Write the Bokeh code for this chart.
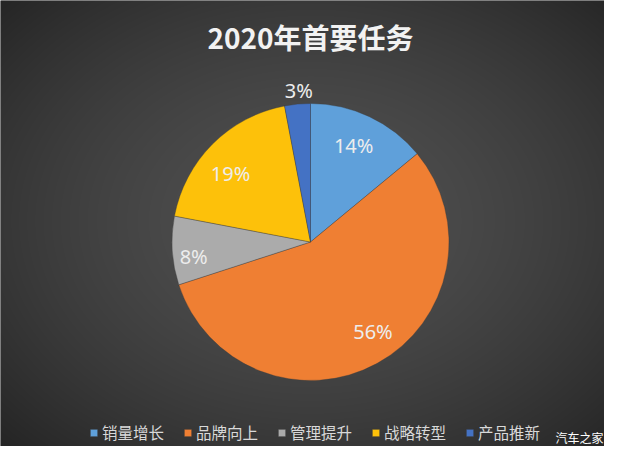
import numpy as np
from bokeh.plotting import figure
from bokeh.models import Label, Legend, LegendItem, ColumnDataSource
from bokeh.core.properties import value
from bokeh.embed import file_html
from bokeh.resources import INLINE

# ---- data ----
categories = ["销量增长", "品牌向上", "管理提升", "战略转型", "产品推新"]
shares = [14, 56, 8, 19, 3]
colors = ["#5FA0DA", "#EF7F33", "#ABABAB", "#FDC10A", "#4472C4"]
label_r = [0.76, 0.79, 0.85, 0.76, 1.10]     # label distance (fraction of radius)
label_dang = [1.0, 6.0, 3.5, 4.4, -1.0]      # label angle nudge (degrees)
title_text = "2020年首要任务"
watermark = "汽车之家"

# ---- layout ----
W, H = 604, 446
CX, CY, R = 310, 204.5, 138.5

p = figure(width=W, height=H, x_range=(0, W), y_range=(0, H),
           output_backend="svg", toolbar_location=None, min_border=0)
p.axis.visible = False
p.grid.visible = False
p.outline_line_color = None
p.background_fill_color = "#3a3a3a"
p.border_fill_color = "#3a3a3a"

# radial gradient background
yy, xx = np.mgrid[0:H, 0:W]
dx = (xx - 310) / 310
dy = (yy - (H / 2 + 2)) / 231
d = np.sqrt(dx ** 2 + dy ** 2) / np.sqrt(2)
f = np.clip(d, 0, 1) ** 1.6
c = (80 - 44 * f).astype(np.uint8)
img = np.empty((H, W), dtype=np.uint32)
view = img.view(dtype=np.uint8).reshape((H, W, 4))
view[..., 0] = c
view[..., 1] = c
view[..., 2] = c
view[..., 3] = 255
p.image_rgba(image=[img], x=0, y=0, dw=W, dh=H)

# pie wedges (clockwise from 12 o'clock)
total = float(sum(shares))
fr = np.array(shares) / total
cum_end = np.cumsum(fr)
cum_start = cum_end - fr
start_angle = np.pi / 2 - 2 * np.pi * cum_end
end_angle = np.pi / 2 - 2 * np.pi * cum_start
mid = (start_angle + end_angle) / 2 + np.radians(label_dang)

src = ColumnDataSource(dict(cat=categories, color=colors,
                            start=start_angle, end=end_angle))
wr = p.wedge(x=CX, y=CY, radius=R, start_angle="start", end_angle="end",
             fill_color="color", line_color="#3c3c3c", line_width=0.6,
             line_alpha=0.6, source=src)

# percentage labels
lr = np.array(label_r) * R
lsrc = ColumnDataSource(dict(x=CX + lr * np.cos(mid), y=CY + lr * np.sin(mid),
                             t=[f"{v}%" for v in shares]))
p.text(x="x", y="y", text="t", source=lsrc, text_align="center",
       text_baseline="middle", text_font=value("Noto Sans"),
       text_font_size="20px", text_color="#EDEDED")

# title
p.add_layout(Label(x=CX, y=410, text=title_text, text_align="center",
                   text_baseline="middle", text_font="Noto Sans CJK SC",
                   text_font_style="bold", text_font_size="28px",
                   text_color="#F2F2F2"))

# legend
items = [LegendItem(label=cat, renderers=[wr], index=i)
         for i, cat in enumerate(categories)]
legend = Legend(items=items, orientation="horizontal", location=(89, 3),
                glyph_width=9, glyph_height=9, label_standoff=4, spacing=19,
                padding=0, margin=0, border_line_color=None,
                background_fill_alpha=0, label_text_font="Noto Sans CJK SC",
                label_text_font_size="15.5px", label_text_color="#D9D9D9",
                label_height=16)
p.add_layout(legend, "center")

# watermark
p.add_layout(Label(x=603, y=9, text=watermark, text_align="right",
                   text_baseline="middle", text_font="Noto Sans CJK SC",
                   text_font_size="12px", text_color="#FFFFFF"))

open("out.html", "w").write(file_html(p, INLINE))
